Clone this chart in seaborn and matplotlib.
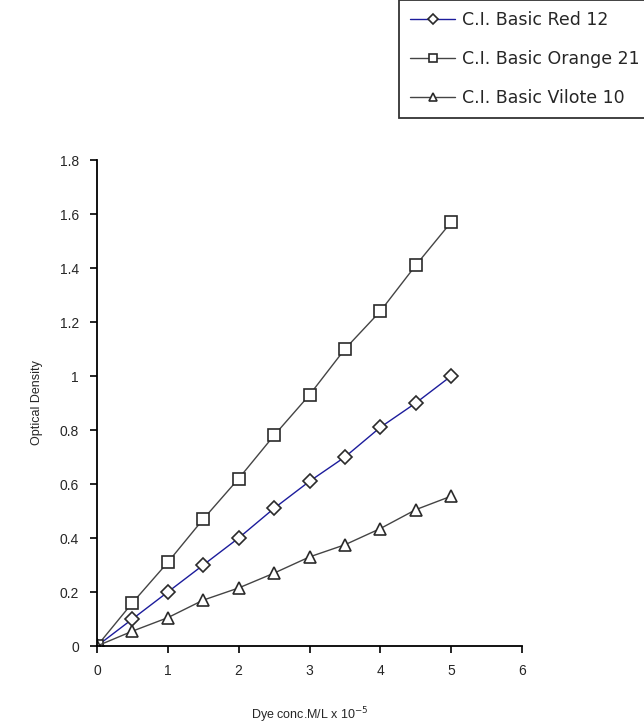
import numpy as np
import pandas as pd
import matplotlib
matplotlib.use("Agg")
import matplotlib.pyplot as plt
import seaborn as sns

# concentracion (M/L x 10^-5)
conc = [0, 0.5, 1, 1.5, 2, 2.5, 3, 3.5, 4, 4.5, 5]

# densidad optica
red_12 = [0, 0.10, 0.20, 0.30, 0.40, 0.51, 0.61, 0.70, 0.81, 0.90, 1.00]
orange_21 = [0, 0.16, 0.31, 0.47, 0.62, 0.78, 0.93, 1.10, 1.24, 1.41, 1.57]
vilote_10 = [0, 0.055, 0.105, 0.17, 0.215, 0.27, 0.33, 0.375, 0.435, 0.505, 0.555]

nombres = ["C.I. Basic Red 12", "C.I. Basic Orange 21", "C.I. Basic Vilote 10"]
series = [red_12, orange_21, vilote_10]
marcadores = ["D", "s", "^"]
colores = ["#1c1c9c", "#444444", "#444444"]
tam_marc = [7, 8.5, 9]

sns.set_style("white")
plt.rcParams['font.family'] = ['Liberation Sans', 'DejaVu Sans']

fig = plt.figure(figsize=(6.44, 7.27), dpi=100)
ax = fig.add_axes([0.1506, 0.1114, 0.66, 0.6685])

for nombre, vals, m, c, ms in zip(nombres, series, marcadores, colores, tam_marc):
    df = pd.DataFrame({"conc": conc, "od": vals})
    sns.lineplot(data=df, x="conc", y="od", ax=ax, color=c, linewidth=1.0,
                 marker=m, markersize=ms, markerfacecolor="white",
                 markeredgecolor="#2a2a2a", markeredgewidth=1.2, label=nombre)

ax.set_xlim(0, 6)
ax.set_ylim(0, 1.8)
ax.set_xticks(range(0, 7))
ax.set_yticks(np.arange(0, 1.81, 0.2))
ax.set_yticklabels(["0", "0.2", "0.4", "0.6", "0.8", "1", "1.2", "1.4", "1.6", "1.8"])
for lado in ["top", "right"]:
    ax.spines[lado].set_visible(False)
for lado in ["left", "bottom"]:
    ax.spines[lado].set_color("black")
    ax.spines[lado].set_linewidth(1.3)
ax.tick_params(axis="both", direction="out", length=5, width=1.2, color="black",
               labelsize=10, pad=8, bottom=True, left=True)
ax.set_xlabel("Dye conc.M/L x 10$^{-5}$", fontsize=9, labelpad=20)
ax.set_ylabel("Optical Density", fontsize=9, labelpad=12)

ax.get_legend().remove()
h, l = ax.get_legend_handles_labels()
leg = fig.legend(h, l, loc="lower left", bbox_to_anchor=(399 / 644, 1 - 118 / 727),
                 frameon=True, fancybox=False, handlelength=2.6,
                 handletextpad=0.35, labelspacing=1.2, borderpad=0.65,
                 borderaxespad=0, markerscale=0.7,
                 prop={"family": ["DejaVu Sans"], "size": 12.5})
leg.get_frame().set_edgecolor("black")
leg.get_frame().set_linewidth(1.3)

fig.savefig("out.png", dpi=100)
